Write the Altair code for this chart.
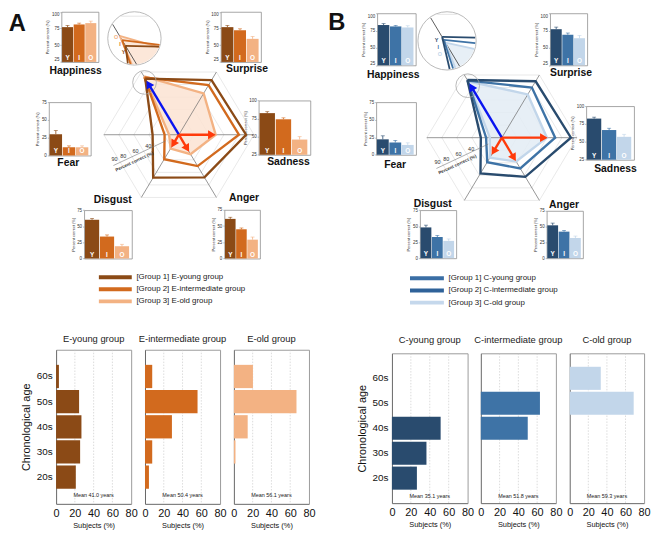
import math
import altair as alt
import pandas as pd

# ------------------------------------------------------------------ data
EMOTIONS = ["Happiness", "Surprise", "Sadness", "Anger", "Disgust", "Fear"]
GROUPS = ["Y", "I", "O"]

A_RADAR_Y = [89.5, 87, 89.5, 68, 68.5, 35]
A_RADAR_I = [91.5, 79, 80, 50, 39, 19]
A_RADAR_O = [93, 66, 49, 31, 22, 13]
B_RADAR_Y = [92, 90, 92, 62.5, 57, 28]
B_RADAR_I = [91, 80, 71, 49, 39, 21]
B_RADAR_O = [90, 69, 60, 38, 32, 16]

ARROW_EMOTIONS = ["Happiness", "Sadness", "Anger", "Disgust"]
A_ARROWS = [86, 49, 27, 20]
B_ARROWS = [86, 61, 37, 27]

RADAR_TICKS = ["40", "60", "80", "90"]
RADAR_TITLE = "Percent correct (%)"

A_HAPPINESS = [77, 81, 83]
A_HAPPINESS_ERR = [2.5, 2, 3]
A_SURPRISE = [77, 72.5, 59.5]
A_SURPRISE_ERR = [2.5, 2, 3.5]
A_SADNESS = [82.5, 74, 46]
A_SADNESS_ERR = [2, 2, 4]
A_ANGER = [61, 45, 29]
A_ANGER_ERR = [2.5, 2, 4]
A_DISGUST = [60, 34, 19]
A_DISGUST_ERR = [2, 2.5, 3]
A_FEAR = [30, 11.5, 11.5]
A_FEAR_ERR = [5, 2, 2]

B_HAPPINESS = [83, 81, 79.5]
B_HAPPINESS_ERR = [2, 1.5, 2.5]
B_SURPRISE = [77, 69, 64]
B_SURPRISE_ERR = [3, 2.5, 4]
B_SADNESS = [82.5, 66.5, 57]
B_SADNESS_ERR = [2, 2.5, 3.5]
B_ANGER = [52, 42, 32]
B_ANGER_ERR = [3.5, 2, 3]
B_DISGUST = [48, 33, 27]
B_DISGUST_ERR = [3.5, 2.5, 3]
B_FEAR = [22, 17.5, 14]
B_FEAR_ERR = [5, 3, 3]

AGE_BINS = ["60s", "50s", "40s", "30s", "20s"]
E_YOUNG = [3, 24.5, 27, 25.6, 21]
E_INTER = [7.7, 56, 28.7, 7.7, 4.2]
E_OLD = [20.3, 66.7, 14.7, 1.7, 0]
C_YOUNG = [0, 0, 51.5, 36.5, 26.4]
C_INTER = [0, 63, 50, 0, 0]
C_OLD = [33.4, 68.8, 0, 0, 0]
X_TICKS = [0, 20, 40, 60, 80]
GRID_VALUES = [20, 40, 60]

E_TITLES = ["E-young group", "E-intermediate group", "E-old group"]
C_TITLES = ["C-young group", "C-intermediate group", "C-old group"]
E_MEANS = ["Mean 41.0 years", "Mean 50.4 years", "Mean 56.1 years"]
C_MEANS = ["Mean 35.1 years", "Mean 51.8 years", "Mean 59.3 years"]
E_LEGEND = ["[Group 1] E-young group", "[Group 2] E-intermediate group", "[Group 3] E-old group"]
C_LEGEND = ["[Group 1] C-young group", "[Group 2] C-intermediate group", "[Group 3] C-old group"]

# ------------------------------------------------------------------ style / layout
FONT = "Liberation Sans"
W, H = 652, 531          # drawing area; the page adds an 8px margin
E_COLORS = ["#8B4A16", "#D26A1E", "#F3B283"]
C_COLORS = ["#294B6E", "#3E73A6", "#C2D6EA"]
E_LEG_COLORS = ["#8B4A16", "#D26A1E", "#F3B283"]
C_LEG_COLORS = ["#3A6EA5", "#2F6299", "#C5D8EC"]
E_FILL = "#FBE3D2"
C_FILL = "#E3ECF5"
BLUE = "#0A14F0"
RED = "#FF3A0A"

ANGLE = {"Happiness": 120, "Surprise": 60, "Sadness": 0, "Anger": 300, "Disgust": 240, "Fear": 180}
RX, RY = 76.0, 73.3
RINGS = [20, 40, 60, 80, 100]
TICK_R = [44, 62, 79.5, 92]
MAG = 4.5


def px(x):
    return x - 8


def py(y):
    return y - 8


def polar(v, deg):
    a = math.radians(deg)
    return v * math.cos(a), v * math.sin(a)


def radar(vals_list, colors, fill_color, arrows, center, small_circle_r):
    cx, cy = center
    xs = alt.Scale(domain=[-100, 100], range=[px(cx - RX), px(cx + RX)], nice=False, zero=False)
    ys = alt.Scale(domain=[-100, 100], range=[py(cy + RY), py(cy - RY)], nice=False, zero=False)

    def X(f):
        return alt.X(f, type="quantitative", scale=xs, axis=None)

    def Y(f):
        return alt.Y(f, type="quantitative", scale=ys, axis=None)

    layers = []
    rows = []
    for r in RINGS:
        for k in range(7):
            x, y = polar(r, ANGLE[EMOTIONS[k % 6]])
            rows.append({"ring": r, "k": k, "x": x, "y": y})
    layers.append(alt.Chart(pd.DataFrame(rows)).mark_line(color="#d9d9d9", strokeWidth=0.6)
                  .encode(x=X("x"), y=Y("y"), detail="ring:N", order="k:Q"))

    rows = []
    for k in range(7):
        x, y = polar(vals_list[2][k % 6], ANGLE[EMOTIONS[k % 6]])
        rows.append({"k": k, "x": x, "y": y})
    layers.append(alt.Chart(pd.DataFrame(rows)).mark_line(filled=True, color=fill_color, opacity=0.85)
                  .encode(x=X("x"), y=Y("y"), order="k:Q"))

    rows = []
    for e in EMOTIONS:
        x, y = polar(100, ANGLE[e])
        rows.append({"x0": 0, "y0": 0, "x1": x, "y1": y})
    layers.append(alt.Chart(pd.DataFrame(rows)).mark_rule(color="#6a6a6a", strokeWidth=0.7)
                  .encode(x=X("x0"), y=Y("y0"), x2="x1:Q", y2="y1:Q"))

    for gi in [2, 1, 0]:
        rows = []
        for k in range(7):
            x, y = polar(vals_list[gi][k % 6], ANGLE[EMOTIONS[k % 6]])
            rows.append({"k": k, "x": x, "y": y})
        layers.append(alt.Chart(pd.DataFrame(rows)).mark_line(color=colors[gi], strokeWidth=2.4, strokeJoin="miter")
                      .encode(x=X("x"), y=Y("y"), order="k:Q"))

    # radial axis (line, tick labels, title)
    p0 = polar(20, 206)
    p1 = polar(97, 206)
    layers.append(alt.Chart(pd.DataFrame([{"x0": p0[0], "y0": p0[1], "x1": p1[0], "y1": p1[1]}]))
                  .mark_rule(color="#777", strokeWidth=0.6)
                  .encode(x=X("x0"), y=Y("y0"), x2="x1:Q", y2="y1:Q"))
    rows = []
    for t, r in zip(RADAR_TICKS, TICK_R):
        x, y = polar(r, 201.5)
        rows.append({"t": t, "x": x, "y": y})
    layers.append(alt.Chart(pd.DataFrame(rows)).mark_text(fontSize=5.5, color="#333")
                  .encode(x=X("x"), y=Y("y"), text="t:N"))
    tx, ty = polar(70, 212.5)
    layers.append(alt.Chart(pd.DataFrame([{"t": RADAR_TITLE, "x": tx, "y": ty}]))
                  .mark_text(fontSize=4.6, angle=335, color="#333", fontWeight="bold")
                  .encode(x=X("x"), y=Y("y"), text="t:N"))

    # small zoom circle near the happiness vertex
    hx, hy = polar(vals_list[1][0], ANGLE["Happiness"])
    layers.append(alt.Chart(pd.DataFrame([{"x": hx, "y": hy - 7}]))
                  .mark_point(shape="circle", size=(2 * small_circle_r) ** 2, color="#a8a8a8",
                              strokeWidth=0.8, filled=False, opacity=1)
                  .encode(x=X("x"), y=Y("y")))

    # arrows
    rows = []
    kx, ky = RX / 100, RY / 100
    for e, v in zip(ARROW_EMOTIONS, arrows):
        th = ANGLE[e]
        xe, ye = polar(v - 5, th)
        a = math.radians(th)
        rot = math.degrees(math.atan2(kx * math.cos(a), ky * math.sin(a))) % 360
        rows.append({"x0": 0, "y0": 0, "xe": xe, "ye": ye, "rot": rot,
                     "c": BLUE if e == "Happiness" else RED})
    adf = pd.DataFrame(rows)
    layers.append(alt.Chart(adf).mark_rule(strokeWidth=2.4)
                  .encode(x=X("x0"), y=Y("y0"), x2="xe:Q", y2="ye:Q", color=alt.Color("c:N", scale=None)))
    layers.append(alt.Chart(adf).mark_point(shape="triangle-up", filled=True, size=80, opacity=1)
                  .encode(x=X("xe"), y=Y("ye"), angle=alt.Angle("rot:Q", scale=None),
                          color=alt.Color("c:N", scale=None)))
    return alt.layer(*layers)


def clip_segment(p, q):
    dx, dy = q[0] - p[0], q[1] - p[1]
    a = dx * dx + dy * dy
    b = 2 * (p[0] * dx + p[1] * dy)
    c = p[0] ** 2 + p[1] ** 2 - 1
    disc = b * b - 4 * a * c
    if a == 0 or disc <= 0:
        return None
    s = math.sqrt(disc)
    t1 = max((-b - s) / (2 * a), 0.0)
    t2 = min((-b + s) / (2 * a), 1.0)
    if t1 >= t2:
        return None
    return (p[0] + t1 * dx, p[1] + t1 * dy), (p[0] + t2 * dx, p[1] + t2 * dy)


def clip_polygon(subject, n=90):
    clip = [(math.cos(2 * math.pi * i / n), math.sin(2 * math.pi * i / n)) for i in range(n)]
    out = list(subject)
    for i in range(n):
        a, b = clip[i], clip[(i + 1) % n]
        inp, out = out, []
        if not inp:
            break

        def inside(p):
            return (b[0] - a[0]) * (p[1] - a[1]) - (b[1] - a[1]) * (p[0] - a[0]) >= 0

        def inter(p, q):
            x1, y1 = p
            x2, y2 = q
            x3, y3 = a
            x4, y4 = b
            den = (x1 - x2) * (y3 - y4) - (y1 - y2) * (x3 - x4)
            t = ((x1 - x3) * (y3 - y4) - (y1 - y3) * (x3 - x4)) / den
            return (x1 + t * (x2 - x1), y1 + t * (y2 - y1))

        s = inp[-1]
        for e in inp:
            if inside(e):
                if not inside(s):
                    out.append(inter(s, e))
                out.append(e)
            elif inside(s):
                out.append(inter(s, e))
            s = e
    return out


def magnifier(vals_list, colors, fill_color, circ, R, anchor_g, anchor_pg, letter_pos):
    kx, ky = RX / 100 * MAG, RY / 100 * MAG
    hx, hy = polar(vals_list[anchor_g][0], ANGLE["Happiness"])
    cxd = hx + (circ[0] - anchor_pg[0]) / kx
    cyd = hy - (circ[1] - anchor_pg[1]) / ky
    rdx, rdy = R / kx, R / ky
    xs = alt.Scale(domain=[cxd - rdx, cxd + rdx], range=[px(circ[0] - R), px(circ[0] + R)], nice=False, zero=False)
    ys = alt.Scale(domain=[cyd - rdy, cyd + rdy], range=[py(circ[1] + R), py(circ[1] - R)], nice=False, zero=False)
    sh = 0.97

    def norm(p):
        return ((p[0] - cxd) / (rdx * sh), (p[1] - cyd) / (rdy * sh))

    def denorm(q):
        return (cxd + q[0] * rdx * sh, cyd + q[1] * rdy * sh)

    def X(f):
        return alt.X(f, type="quantitative", scale=xs, axis=None)

    def Y(f):
        return alt.Y(f, type="quantitative", scale=ys, axis=None)

    def segs(polyline, color):
        rows = []
        for p, q in zip(polyline[:-1], polyline[1:]):
            res = clip_segment(norm(p), norm(q))
            if res:
                a, b = denorm(res[0]), denorm(res[1])
                rows.append({"x0": a[0], "y0": a[1], "x1": b[0], "y1": b[1], "c": color})
        return rows

    layers = []
    layers.append(alt.Chart(pd.DataFrame([{"x": cxd, "y": cyd}]))
                  .mark_point(shape="circle", size=(2 * R) ** 2, fill="white", stroke="#a8a8a8",
                              strokeWidth=0.8, filled=True, opacity=1)
                  .encode(x=X("x"), y=Y("y")))
    opoly = [polar(vals_list[2][k], ANGLE[EMOTIONS[k]]) for k in range(6)]
    clipped = [denorm(q) for q in clip_polygon([norm(p) for p in opoly])]
    if clipped:
        rows = [{"k": i, "x": p[0], "y": p[1]} for i, p in enumerate(clipped + [clipped[0]])]
        layers.append(alt.Chart(pd.DataFrame(rows)).mark_line(filled=True, color=fill_color, opacity=0.85)
                      .encode(x=X("x"), y=Y("y"), order="k:Q"))
    rows = []
    for r in RINGS:
        ring = [polar(r, ANGLE[EMOTIONS[k % 6]]) for k in range(7)]
        rows += segs(ring, "#dedede")
    for e in EMOTIONS:
        rows += segs([(0, 0), polar(100, ANGLE[e])], "#333333")
    layers.append(alt.Chart(pd.DataFrame(rows)).mark_rule(strokeWidth=0.8)
                  .encode(x=X("x0"), y=Y("y0"), x2="x1:Q", y2="y1:Q", color=alt.Color("c:N", scale=None)))
    rows = []
    for gi in [2, 1, 0]:
        poly = [polar(vals_list[gi][k % 6], ANGLE[EMOTIONS[k % 6]]) for k in range(7)]
        rows += segs(poly, colors[gi])
    layers.append(alt.Chart(pd.DataFrame(rows)).mark_rule(strokeWidth=1.8)
                  .encode(x=X("x0"), y=Y("y0"), x2="x1:Q", y2="y1:Q", color=alt.Color("c:N", scale=None)))
    for gi, g in enumerate(GROUPS):
        lx, ly = letter_pos[g]
        layers.append(alt.Chart(pd.DataFrame({"t": [g]})).mark_text(fontSize=5.5, fontWeight="bold",
                                                                    color=colors[gi])
                      .encode(x=alt.value(px(lx)), y=alt.value(py(ly)), text="t:N"))
    return alt.layer(*layers)


def mini(vals, errs, colors, box, dom, flush=False):
    x0, y0, x1, y1 = box
    df = pd.DataFrame({"g": GROUPS, "v": vals, "hi": [v + e for v, e in zip(vals, errs)], "c": colors})
    xs = alt.Scale(domain=GROUPS, range=[px(x0), px(x1)], paddingInner=0.05, paddingOuter=0.12, align=0.25)
    ys = alt.Scale(domain=dom, range=[py(y1), py(y0)], nice=False, zero=False)
    ticks = list(range(dom[0], dom[1] + 1, 25))
    col = alt.Color("c:N", scale=None)
    base = alt.Chart(df)
    frame_c = "#8f8f8f"
    bars = base.mark_bar().encode(
        x=alt.X("g:N", scale=xs, axis=alt.Axis(orient="bottom", offset=py(y1) - H, labels=False, ticks=False,
                                                title=None, domainColor=frame_c, domainWidth=0.8, grid=False)),
        y=alt.Y("v:Q", scale=ys, axis=alt.Axis(orient="left", offset=-px(x0), values=ticks, labelFontSize=4.5,
                                                labelPadding=1, tickSize=1.5, tickWidth=0.5, tickColor="#777",
                                                domainColor=frame_c, domainWidth=0.8, grid=False,
                                                title="Percent correct (%)", titleFontSize=4,
                                                titleFontWeight="normal", titlePadding=1.5, labelColor="#333",
                                                titleColor="#333", labelFlush=flush)),
        y2=alt.datum(dom[0]),
        color=col)
    err = base.mark_rule(strokeWidth=0.8).encode(
        x=alt.X("g:N", scale=xs, axis=None), y=alt.Y("v:Q", scale=ys, axis=None), y2="hi:Q", color=col)
    caps = base.mark_tick(thickness=0.8, size=4).encode(
        x=alt.X("g:N", scale=xs, axis=None), y=alt.Y("hi:Q", scale=ys, axis=None), color=col)
    letters = base.mark_text(color="white", fontWeight="bold", fontSize=6.5, baseline="bottom", dy=-1).encode(
        x=alt.X("g:N", scale=xs, axis=None), y=alt.YDatum(dom[0], axis=None), text="g:N")
    frame = base.mark_bar(opacity=0).encode(
        x=alt.X("g:N", scale=xs, axis=alt.Axis(orient="top", offset=-py(y0), labels=False, ticks=False,
                                                title=None, domainColor=frame_c, domainWidth=0.8, grid=False)),
        y=alt.Y("v:Q", scale=ys, axis=alt.Axis(orient="right", offset=px(x1) - W, labels=False, ticks=False,
                                                title=None, domainColor=frame_c, domainWidth=0.8, grid=False)),
        y2=alt.datum(dom[0]))
    return alt.layer(bars, err, caps, letters, frame).resolve_axis(x="independent", y="independent")


def hist(vals, color, box, title, mean, title_y, mean_y, first, pad_outer):
    x0, y0, x1, y1 = box
    df = pd.DataFrame({"age": AGE_BINS, "v": vals})
    xs = alt.Scale(domain=[0, 80], range=[px(x0), px(x1)], nice=False, zero=False)
    ys = alt.Scale(domain=AGE_BINS, range=[py(y0), py(y1)], paddingInner=0.075, paddingOuter=pad_outer)
    xaxis = alt.Axis(orient="bottom", offset=py(y1) - H, values=X_TICKS, labelFontSize=11, labelPadding=4,
                     ticks=False, domainColor="#666", domainWidth=1, title="Subjects (%)", titleFontSize=7.5,
                     titleFontWeight="normal", titlePadding=3, grid=False, labelColor="#111", titleColor="#111",
                     labelFlush=False, labelOverlap=False)
    if first:
        yaxis = alt.Axis(orient="left", offset=-px(x0), labelFontSize=10, ticks=False, labelPadding=4,
                         domainColor="#666", domainWidth=1, title="Chronological age", titleFontSize=11,
                         titleFontWeight="normal", titlePadding=5, labelColor="#111", titleColor="#111")
    else:
        yaxis = alt.Axis(orient="left", offset=-px(x0), labels=False, ticks=False, title=None,
                         domainColor="#666", domainWidth=1)
    base = alt.Chart(df)
    grid = alt.Chart(pd.DataFrame({"g": GRID_VALUES})).mark_rule(
        color="#c4c4c4", strokeWidth=0.6, strokeDash=[1.5, 1.5]).encode(
        x=alt.X("g:Q", scale=xs, axis=None), y=alt.value(py(y0)), y2=alt.value(py(y1)))
    bars = base.mark_bar(color=color).encode(
        x=alt.X("v:Q", scale=xs, axis=xaxis), y=alt.Y("age:N", scale=ys, axis=yaxis))
    frame = base.mark_bar(opacity=0).encode(
        x=alt.X("v:Q", scale=xs, axis=alt.Axis(orient="top", offset=-py(y0), labels=False, ticks=False,
                                                title=None, grid=False, domainColor="#9a9a9a")),
        y=alt.Y("age:N", scale=ys, axis=alt.Axis(orient="right", offset=px(x1) - W, labels=False,
                                                  ticks=False, title=None, domainColor="#9a9a9a")))
    t1 = alt.Chart(pd.DataFrame({"t": [title]})).mark_text(fontSize=9.5, color="#222").encode(
        x=alt.XDatum(40, axis=None), y=alt.value(py(title_y)), text="t:N")
    t2 = alt.Chart(pd.DataFrame({"t": [mean]})).mark_text(fontSize=5.5, color="#222").encode(
        x=alt.XDatum(40, axis=None), y=alt.value(py(mean_y)), text="t:N")
    return alt.layer(grid, bars, frame, t1, t2).resolve_axis(x="independent", y="independent")


def legend(labels, colors, x0, x1, xt, yr):
    df = pd.DataFrame({"lab": labels, "c": colors})
    sc = alt.Scale(type="point", domain=labels, range=[py(yr[0]), py(yr[1])], padding=0)
    lines = alt.Chart(df).mark_rule(strokeWidth=4).encode(
        x=alt.value(px(x0)), x2=alt.value(px(x1)), y=alt.Y("lab:N", scale=sc, axis=None),
        color=alt.Color("c:N", scale=None))
    texts = alt.Chart(df).mark_text(align="left", baseline="middle", fontSize=8, color="#222").encode(
        x=alt.value(px(xt)), y=alt.Y("lab:N", scale=sc, axis=None), text="lab:N")
    return alt.layer(lines, texts)


def label(text, x, y, size=10.5, weight="bold", baseline="alphabetic"):
    return alt.Chart(pd.DataFrame({"t": [text]})).mark_text(
        fontSize=size, fontWeight=weight, color="#111", baseline=baseline).encode(
        x=alt.value(px(x)), y=alt.value(py(y)), text="t:N")


layers = []
layers.append(radar([A_RADAR_Y, A_RADAR_I, A_RADAR_O], E_COLORS, E_FILL, A_ARROWS, (181, 133), 12))
layers.append(radar([B_RADAR_Y, B_RADAR_I, B_RADAR_O], C_COLORS, C_FILL, B_ARROWS, (508, 136), 12))
layers.append(magnifier([A_RADAR_Y, A_RADAR_I, A_RADAR_O], E_COLORS, E_FILL, (136, 35.5), 27, 2, (121, 33),
                        {"O": (117.5, 34.5), "I": (121.5, 41.5), "Y": (125, 49.5)}))
layers.append(magnifier([B_RADAR_Y, B_RADAR_I, B_RADAR_O], C_COLORS, C_FILL, (452.5, 38), 29.5, 0, (447.5, 34),
                        {"Y": (442, 37.5), "I": (443.6, 44.5), "O": (445.2, 51.5)}))

SCALE_HI = [25, 100]
SCALE_LO = [0, 75]
layers += [
    mini(A_HAPPINESS, A_HAPPINESS_ERR, E_COLORS, (62, 8.5, 99.5, 59.3), SCALE_HI, True),
    mini(A_SURPRISE, A_SURPRISE_ERR, E_COLORS, (223.3, 8.5, 264, 59.3), SCALE_HI, True),
    mini(A_SADNESS, A_SADNESS_ERR, E_COLORS, (261.7, 98.3, 314, 153.3), SCALE_HI),
    mini(A_ANGER, A_ANGER_ERR, E_COLORS, (227, 209, 263, 258.3), SCALE_LO),
    mini(A_DISGUST, A_DISGUST_ERR, E_COLORS, (85, 209.3, 133.3, 258.3), SCALE_LO),
    mini(A_FEAR, A_FEAR_ERR, E_COLORS, (49.3, 100, 91.7, 154), SCALE_LO),
    mini(B_HAPPINESS, B_HAPPINESS_ERR, C_COLORS, (381.7, 10, 420.7, 62.7), SCALE_HI, True),
    mini(B_SURPRISE, B_SURPRISE_ERR, C_COLORS, (556.7, 10, 594.3, 62.7), SCALE_HI, True),
    mini(B_SADNESS, B_SADNESS_ERR, C_COLORS, (593.3, 104, 641.7, 158.3), SCALE_HI),
    mini(B_ANGER, B_ANGER_ERR, C_COLORS, (553.3, 210, 590, 258), SCALE_LO),
    mini(B_DISGUST, B_DISGUST_ERR, C_COLORS, (425, 209.3, 461.7, 258), SCALE_LO),
    mini(B_FEAR, B_FEAR_ERR, C_COLORS, (380.7, 100, 421, 153.3), SCALE_LO),
]

A_LABEL_POS = {"Happiness": (76.5, 71.5), "Surprise": (250, 69.5), "Fear": (69, 165),
               "Sadness": (292, 164), "Disgust": (114, 202), "Anger": (247, 200)}
B_LABEL_POS = {"Happiness": (398, 75.5), "Surprise": (578, 73.5), "Fear": (400, 167),
               "Sadness": (623, 171), "Disgust": (438, 206), "Anger": (571, 207)}
for e in EMOTIONS:
    layers.append(label(e, *A_LABEL_POS[e]))
    layers.append(label(e, *B_LABEL_POS[e]))
layers.append(label("A", 17.5, 21, size=24, baseline="middle"))
layers.append(label("B", 341, 19.5, size=24, baseline="middle"))

layers.append(legend(E_LEGEND, E_LEG_COLORS, 100, 133.3, 138, (277.3, 301.7)))
layers.append(legend(C_LEGEND, C_LEG_COLORS, 415, 449.3, 454, (278.3, 303)))

E_BOXES = [(56.7, 350.7, 132.7, 506.7), (146.7, 350.7, 222.7, 506.7), (236.7, 350.7, 312.7, 506.7)]
C_BOXES = [(396.7, 354.3, 473.3, 506), (486.7, 354.3, 562.7, 506), (576.7, 354.3, 652, 506)]
for i, (vals, box) in enumerate(zip([E_YOUNG, E_INTER, E_OLD], E_BOXES)):
    layers.append(hist(vals, E_COLORS[i], box, E_TITLES[i], E_MEANS[i], 340, 497.3, i == 0, 0.6))
for i, (vals, box) in enumerate(zip([C_YOUNG, C_INTER, C_OLD], C_BOXES)):
    layers.append(hist(vals, C_COLORS[i], box, C_TITLES[i], C_MEANS[i], 341, 498.3, i == 0, 0.54))

chart = (
    alt.layer(*layers)
    .resolve_scale(x="independent", y="independent")
    .properties(width=W, height=H, autosize=alt.AutoSizeParams(type="none"), padding=0)
    .configure(font=FONT)
    .configure_view(strokeWidth=0)
)
chart.save("out.html", embed_options={"renderer": "svg", "actions": False})
